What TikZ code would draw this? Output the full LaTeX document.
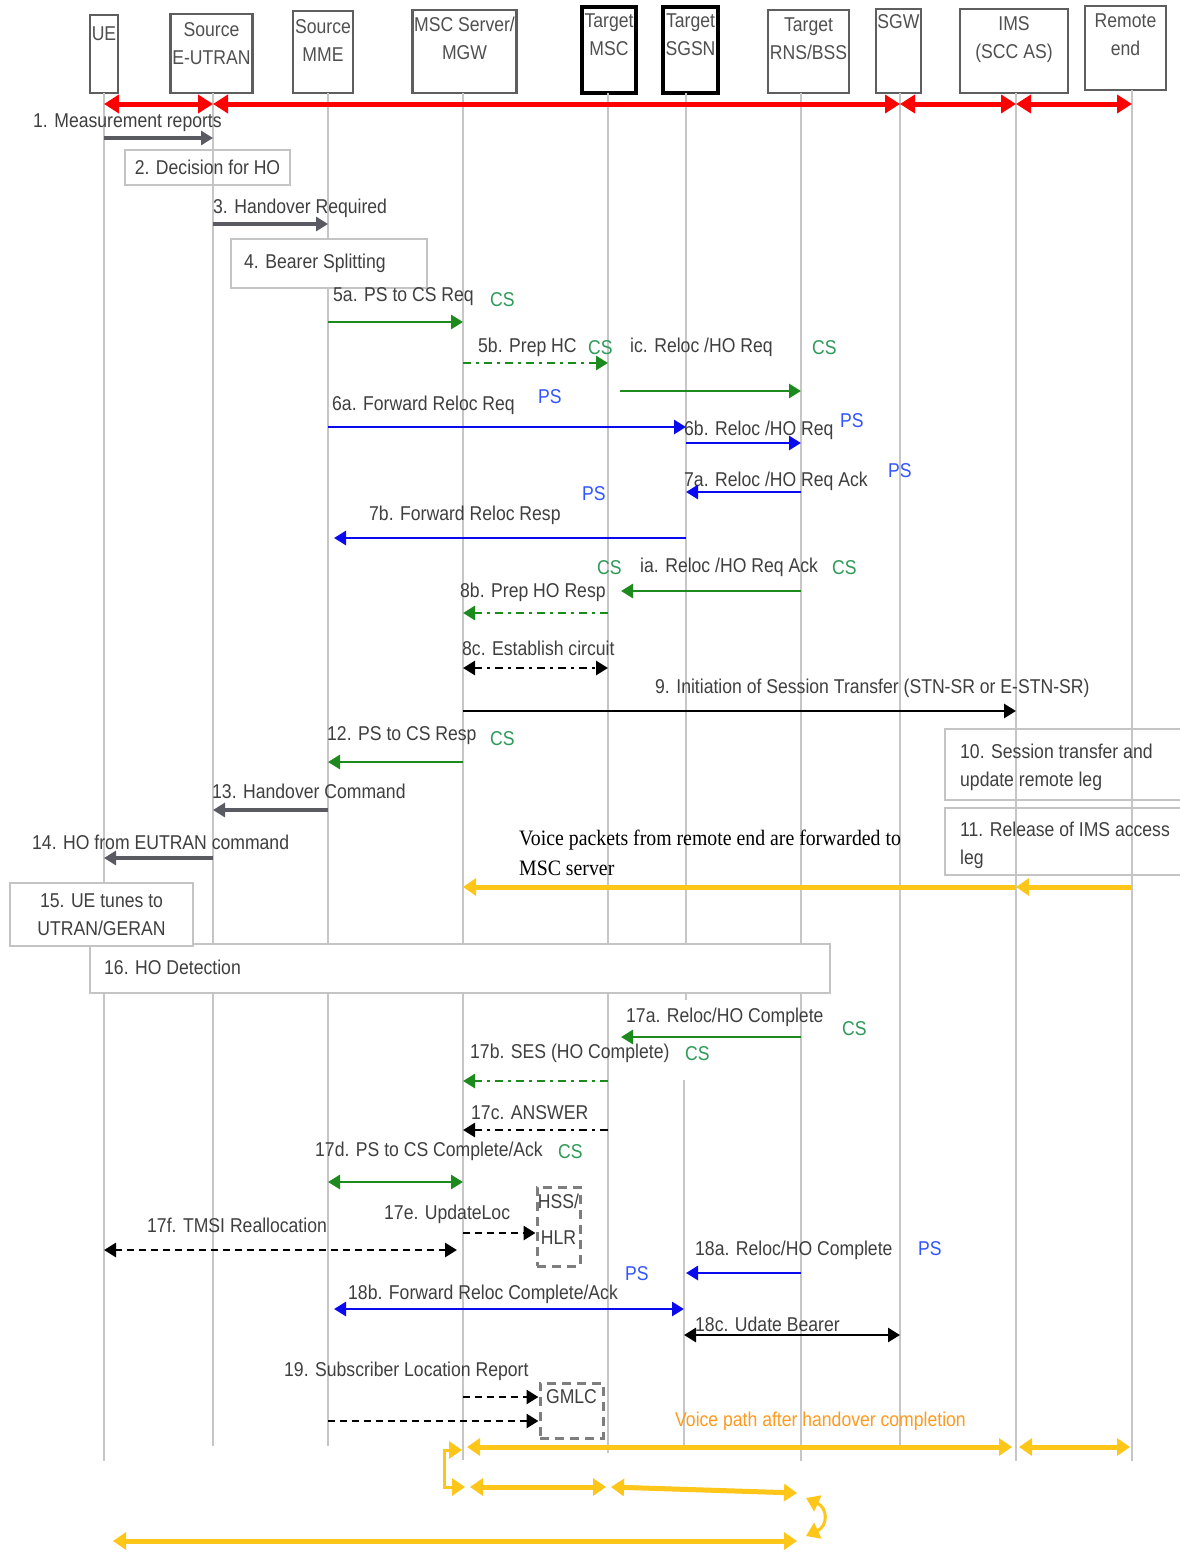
\documentclass[tikz,border=0pt]{standalone}
\usepackage{fontspec}
\setmainfont{Liberation Sans}[FakeStretch=0.88]
\newfontfamily\serifnote{Liberation Serif}[FakeStretch=0.9]
\usetikzlibrary{arrows.meta}
\definecolor{txtgray}{HTML}{3F3F3F}
\definecolor{headtxtcol}{HTML}{505050}
\definecolor{lifegray}{HTML}{C6C6C6}
\definecolor{headgray}{HTML}{5E5E5E}
\definecolor{msggray}{HTML}{5A5A63}
\definecolor{boxgray}{HTML}{C4C4C4}
\definecolor{grn}{HTML}{1C8A1C}
\definecolor{cstxt}{HTML}{2E9A58}
\definecolor{blu}{HTML}{0A0AF0}
\definecolor{pstxt}{HTML}{3355FF}
\definecolor{gold}{HTML}{FFC61A}
\definecolor{orangetxt}{HTML}{FF9A1F}
\definecolor{hotred}{HTML}{FF0000}
\begin{document}
\begin{tikzpicture}[x=1pt,y=-1pt,
  lifeline/.style={draw=lifegray, line width=1.4pt},
  headbox/.style={draw=headgray, line width=2.8pt, fill=white, inner sep=0pt},
  tgtbox/.style={headbox, draw=black, line width=3.2pt},
  headtxt/.style={anchor=north, align=center, inner sep=0pt, text=headtxtcol, font=\fontsize{20}{28}\selectfont},
  lbl/.style={anchor=west, inner sep=0pt, text=txtgray, align=left, font=\fontsize{20}{28}\selectfont},
  cs/.style={lbl, text=cstxt},
  ps/.style={lbl, text=pstxt},
  notebox/.style={draw=boxgray, line width=2pt, inner sep=0pt},
  dashbox/.style={draw=headgray!80, line width=3pt, dash pattern=on 9pt off 6pt, inner sep=0pt},
  redmsg/.style={draw=hotred, line width=5pt, >={Triangle[length=15pt,width=18pt]}, <->},
  graymsg/.style={draw=msggray, line width=4pt, >={Triangle[length=12pt,width=14pt]}, ->},
  greenmsg/.style={draw=grn, line width=2.8pt, >={Triangle[length=12pt,width=14pt]}, ->},
  bluemsg/.style={draw=blu, line width=2.8pt, >={Triangle[length=12pt,width=14pt]}, ->},
  blackmsg/.style={draw=black, line width=2.8pt, >={Triangle[length=12pt,width=14pt]}, ->},
  dashdot/.style={dash pattern=on 8pt off 5pt on 3pt off 5pt},
  dashes/.style={dash pattern=on 7pt off 5pt},
  voice/.style={draw=gold, line width=5pt, >={Triangle[length=13pt,width=17pt]}, <->},
]
\useasboundingbox[fill=white] (0,0) rectangle (1179,1555);

% ---------- lifeline heads ----------
\node[headbox, minimum width=28, minimum height=78] (h-ue) at (104,54) {};
\node[headbox, minimum width=82, minimum height=79] (h-enb) at (211.5,53.5) {};
\node[headbox, minimum width=60, minimum height=82] (h-mme) at (323,52) {};
\node[headbox, minimum width=104, minimum height=83] (h-msc) at (464.5,51.5) {};
\node[tgtbox, minimum width=54, minimum height=86] (h-tmsc) at (609,50) {};
\node[tgtbox, minimum width=55, minimum height=86] (h-sgsn) at (690.5,50) {};
\node[headbox, minimum width=81, minimum height=83] (h-rns) at (808.5,51.5) {};
\node[headbox, minimum width=45, minimum height=84] (h-sgw) at (898.5,51) {};
\node[headbox, minimum width=108, minimum height=84] (h-ims) at (1014,51) {};
\node[headbox, minimum width=81, minimum height=84] (h-rem) at (1125.5,48) {};

\node[headtxt] (t-ue) at (104,27) {UE};
\node[headtxt] (t-enb) at (211.5,22) {Source\\E-UTRAN};
\node[headtxt] (t-mme) at (323,19) {Source\\MME};
\node[headtxt] (t-msc) at (464.5,17) {MSC Server/\\MGW};
\node[headtxt] (t-tmsc) at (609,14) {Target\\MSC};
\node[headtxt] (t-sgsn) at (690.5,14) {Target\\SGSN};
\node[headtxt] (t-rns) at (808.5,18) {Target\\RNS/BSS};
\node[headtxt] (t-sgw) at (898.5,14) {SGW};
\node[headtxt] (t-ims) at (1014,16) {IMS\\(SCC AS)};
\node[headtxt] (t-rem) at (1125.5,14) {Remote\\end};

% ---------- lifelines ----------
\coordinate (ue) at (104,93);   \coordinate (ue-b) at (104,1461);
\coordinate (enb) at (213,93);  \coordinate (enb-b) at (213,1446);
\coordinate (mme) at (328,93);  \coordinate (mme-b) at (328,1446);
\coordinate (msc) at (463,93);  \coordinate (msc-b) at (463,1460);
\coordinate (tmsc) at (608,93); \coordinate (tmsc-b) at (608,1453);
\coordinate (sgsn) at (686,93); \coordinate (sgsn-m) at (686,1000);
\coordinate (sgsn-r) at (684,1080); \coordinate (sgsn-b) at (684,1446);
\coordinate (rns) at (801,93);  \coordinate (rns-b) at (801,1461);
\coordinate (sgw) at (900,93);  \coordinate (sgw-b) at (900,1446);
\coordinate (ims) at (1016,93); \coordinate (ims-b) at (1016,1461);
\coordinate (rem) at (1132,90); \coordinate (rem-b) at (1132,1461);
\foreach \a/\b in {ue/ue-b, enb/enb-b, mme/mme-b, msc/msc-b, tmsc/tmsc-b, sgsn/sgsn-m, sgsn-r/sgsn-b, rns/rns-b, sgw/sgw-b, ims/ims-b, rem/rem-b}
  \draw[lifeline] (\a) -- (\b);

% ---------- attach / bearer overview ----------
\draw[redmsg] (ue |- 0,104) -- (enb |- 0,104);
\draw[redmsg] (enb |- 0,104) -- (sgw |- 0,104);
\draw[redmsg] (sgw |- 0,104) -- (ims |- 0,104);
\draw[redmsg] (ims |- 0,104) -- (rem |- 0,104);

% ---------- preparation ----------
\node[lbl] (m1) at (33,123) {1. Measurement reports};
\draw[graymsg] (ue |- 0,138) -- (enb |- 0,138);

\node[notebox, minimum width=165, minimum height=35] (n2) at (207.5,167.5) {};
\node[lbl, anchor=center] (t2) at (n2) {2. Decision for HO};

\node[lbl] (m3) at (213,208) {3. Handover Required};
\draw[graymsg] (enb |- 0,224) -- (mme |- 0,224);

\node[notebox, fill=white, minimum width=196, minimum height=49] (n4) at (329,263.5) {};
\node[lbl] (t4) at (244,263) {4. Bearer Splitting};

\node[lbl] (m5a) at (333,297) {5a. PS to CS Req};
\node[cs] (cs5a) at (490,300) {CS};
\draw[greenmsg] (mme |- 0,322) -- (msc |- 0,322);

\node[lbl] (m5b) at (478,347) {5b. Prep HC};
\node[cs] (cs5b) at (588,348) {CS};
\draw[greenmsg, dashdot] (msc |- 0,363) -- (tmsc |- 0,363);

\node[lbl] (m5c) at (630,347) {ic. Reloc /HO Req};
\node[cs] (cs5c) at (812,348) {CS};
\coordinate (c5c) at (620,391);
\draw[greenmsg] (c5c) -- (rns |- c5c);

\node[lbl] (m6a) at (332,405) {6a. Forward Reloc Req};
\node[ps] (ps6a) at (538,397) {PS};
\draw[bluemsg] (mme |- 0,427) -- (sgsn |- 0,427);

\node[lbl] (m6b) at (684,430) {6b. Reloc /HO Req};
\node[ps] (ps6b) at (840,421) {PS};
\draw[bluemsg] (sgsn |- 0,443) -- (rns |- 0,443);

\node[lbl] (m7a) at (684,481) {7a. Reloc /HO Req Ack};
\node[ps] (ps7a) at (888,471) {PS};
\draw[bluemsg] (rns |- 0,492) -- (sgsn |- 0,492);

\node[lbl] (m7b) at (369,515) {7b. Forward Reloc Resp};
\node[ps] (ps7b) at (582,494) {PS};
\coordinate (c7b) at (334,538);
\draw[bluemsg] (sgsn |- c7b) -- (c7b);

\node[cs] (cs8a1) at (597,568) {CS};
\node[lbl] (m8a) at (640,567) {ia. Reloc /HO Req Ack};
\node[cs] (cs8a2) at (832,568) {CS};
\coordinate (c8a) at (621,591);
\draw[greenmsg] (rns |- c8a) -- (c8a);

\node[lbl] (m8b) at (460,592) {8b. Prep HO Resp};
\draw[greenmsg, dashdot] (tmsc |- 0,613) -- (msc |- 0,613);

\node[lbl] (m8c) at (462,648) {8c. Establish circuit};
\draw[blackmsg, dashdot, <->] (msc |- 0,668) -- (tmsc |- 0,668);

\node[lbl] (m9) at (655,688) {9. Initiation of Session Transfer (STN-SR or E-STN-SR)};
\draw[blackmsg] (msc |- 0,711) -- (ims |- 0,711);

\node[notebox, minimum width=250, minimum height=71] (n10) at (1070,764.5) {};
\node[lbl] (t10) at (960,767) {10. Session transfer and\\update remote leg};
\node[notebox, minimum width=250, minimum height=67] (n11) at (1070,841.5) {};
\node[lbl] (t11) at (960,845.5) {11. Release of IMS access\\leg};

\node[lbl] (m12) at (327,736) {12. PS to CS Resp};
\node[cs] (cs12) at (490,739) {CS};
\draw[greenmsg] (msc |- 0,762) -- (mme |- 0,762);

\node[lbl] (m13) at (212,791) {13. Handover Command};
\draw[graymsg] (mme |- 0,810) -- (enb |- 0,810);

\node[lbl] (m14) at (32,842) {14. HO from EUTRAN command};
\draw[graymsg] (enb |- 0,858) -- (ue |- 0,858);

\node[lbl, text=black, font=\serifnote\fontsize{22}{30}\selectfont] (vp) at (519,853)
  {Voice packets from remote end are forwarded to\\MSC server};
\draw[voice, ->] (rem |- 0,887) -- (ims |- 0,887);
\draw[voice, ->] (ims |- 0,887) -- (msc |- 0,887);

% ---------- execution ----------
\node[notebox, fill=white, minimum width=740, minimum height=49] (n16) at (460,968.5) {};
\node[lbl] (t16) at (104,967) {16. HO Detection};
\node[notebox, fill=white, minimum width=183, minimum height=63] (n15) at (101.5,914.5) {};
\node[lbl, anchor=center, align=center] (t15) at (n15) {15. UE tunes to\\UTRAN/GERAN};

\node[lbl] (m17a) at (626,1017) {17a. Reloc/HO Complete};
\node[cs] (cs17a) at (842,1029) {CS};
\coordinate (c17a) at (621,1037);
\draw[greenmsg] (rns |- c17a) -- (c17a);

\node[lbl] (m17b) at (470,1053) {17b. SES (HO Complete)};
\node[cs] (cs17b) at (685,1054) {CS};
\draw[greenmsg, dashdot] (tmsc |- 0,1081) -- (msc |- 0,1081);

\node[lbl] (m17c) at (471,1113) {17c. ANSWER};
\draw[blackmsg, dashdot] (tmsc |- 0,1130) -- (msc |- 0,1130);

\node[lbl] (m17d) at (315,1151) {17d. PS to CS Complete/Ack};
\node[cs] (cs17d) at (558,1152) {CS};
\draw[greenmsg, <->] (mme |- 0,1182) -- (msc |- 0,1182);

\node[dashbox, minimum width=43, minimum height=79] (hss) at (558.5,1226.5) {};
\node[lbl, anchor=center, align=center, font=\fontsize{20}{36}\selectfont] (t-hss) at (558.5,1219) {HSS/\\HLR};

\node[lbl] (m17e) at (384,1214) {17e. UpdateLoc};
\draw[blackmsg, dashes] (msc |- 0,1233) -- (hss.west |- 0,1233);

\node[lbl] (m17f) at (147,1225) {17f. TMSI Reallocation};
\coordinate (c17f) at (457,1250);
\draw[blackmsg, dashes, <->] (ue |- c17f) -- (c17f);

\node[lbl] (m18a) at (695,1250) {18a. Reloc/HO Complete};
\node[ps] (ps18a) at (918,1249) {PS};
\draw[bluemsg] (rns |- 0,1273) -- (sgsn |- 0,1273);

\node[ps] (ps18b) at (625,1274) {PS};
\node[lbl] (m18b) at (348,1294) {18b. Forward Reloc Complete/Ack};
\coordinate (c18b) at (334,1309);
\draw[bluemsg, <->] (c18b) -- (sgsn-r |- c18b);

\node[lbl] (m18c) at (695,1324) {18c. Udate Bearer};
\draw[blackmsg, <->] (sgsn-r |- 0,1335) -- (sgw |- 0,1335);

\node[lbl] (m19) at (284,1371) {19. Subscriber Location Report};
\node[dashbox, minimum width=63, minimum height=55] (gmlc) at (571.5,1410.5) {};
\node[lbl, anchor=center] (t-gmlc) at (571.5,1397) {GMLC};
\draw[blackmsg, dashes] (msc |- 0,1397) -- (gmlc.west |- 0,1397);
\draw[blackmsg, dashes] (mme |- 0,1421) -- (gmlc.west |- 0,1421);

% ---------- voice path after handover ----------
\node[lbl, text=orangetxt] (vpath) at (675,1421) {Voice path after handover completion};
\coordinate (g1) at (467,1447);  \coordinate (g2) at (1012,1447);
\coordinate (g3) at (1019,1447); \coordinate (g4) at (1130,1447);
\draw[voice] (g1) -- (g2);
\draw[voice] (g3) -- (g4);
\coordinate (b1) at (462,1450); \coordinate (b2) at (444,1450);
\coordinate (b3) at (444,1487); \coordinate (b4) at (465,1487);
\draw[voice, line width=3pt] (b1) -- (b2) -- (b3) -- (b4);
\coordinate (g5) at (470,1487); \coordinate (g6) at (606,1487);
\draw[voice] (g5) -- (g6);
\coordinate (g7) at (611,1487); \coordinate (g8) at (797,1493);
\draw[voice] (g7) -- (g8);
\coordinate (g9) at (806,1498); \coordinate (g10) at (806,1536);
\draw[voice, line width=3pt] (g9) .. controls (828,1508) and (828,1526) .. (g10);
\coordinate (g11) at (113,1541); \coordinate (g12) at (797,1541);
\draw[voice] (g11) -- (g12);
\end{tikzpicture}
\end{document}
